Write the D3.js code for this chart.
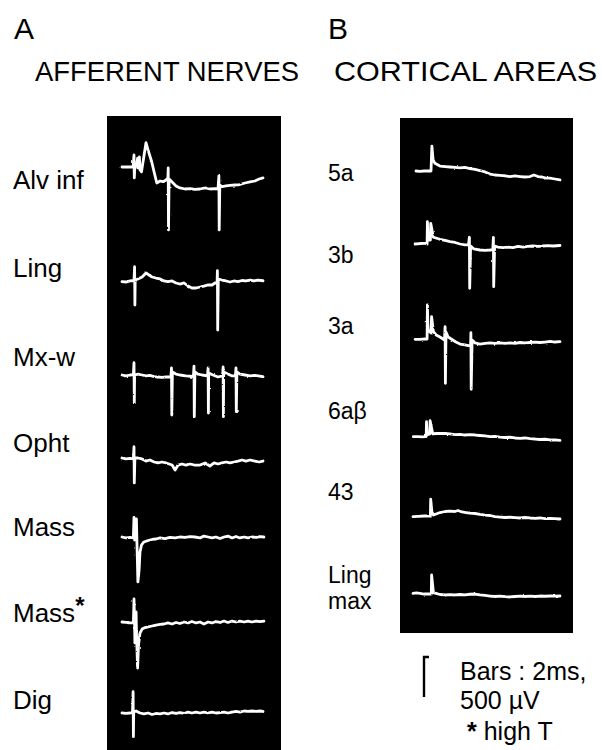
<!DOCTYPE html>
<html>
<head>
<meta charset="utf-8">
<script src="https://cdn.jsdelivr.net/npm/d3@7"></script>
<style>
  body { margin: 0; background: #fff; }
  text { font-family: "Liberation Sans", Arial, Helvetica, sans-serif; fill: #000; }
</style>
</head>
<body>
<div id="chart"></div>
<script>
// trace data: [time (ms), amplitude (µV, up = positive)]

const nerveLabels = ["Alv inf", "Ling", "Mx-w", "Opht", "Mass", "Mass", "Dig"];
const areaLabels = ["5a", "3b", "3a", "6aβ", "43", "Ling", "max"];

const alvInf = [[0,0],[3.7,0],[4.0,150],[4.1,-137],[4.3,12],[4.8,12],[5.2,110],[5.3,-12],[5.8,125],[6.0,-37],
  [6.5,-60],[8.0,304],[8.7,212],[9.9,66],[10.7,-62],[11.6,-200],[12.7,-175],[13.7,-184],[14.7,-162],[15.3,-137],
  [15.4,-12],[15.5,-787],[15.7,-150],[16.7,-187],[18,-237],[19.3,-262],[21,-275],[22.7,-269],[24.3,-281],[26,-275],
  [27.7,-262],[29.3,-275],[31,-269],[32,-275],[32.3,-112],[32.4,-787],[32.6,-225],[33.3,-246],[34.7,-237],[36,-231],
  [37.7,-225],[39.3,-219],[41,-200],[42.7,-187],[44.3,-175],[45.7,-150],[47,-137]];

const ling = [[0,0],[1.3,-4],[2.7,9],[4.0,15],[4.2,188],[4.3,-291],[4.4,21],[5.3,34],[6.7,59],[8,109],[9,84],
  [10,59],[11.3,46],[12.7,34],[14,9],[15.3,0],[16.7,9],[18,-16],[19.3,-29],[20.7,-16],[22,-54],[23.3,-79],
  [24.7,-79],[26,-66],[27.3,-54],[28.7,-41],[30,-41],[31,-16],[31.7,-16],[31.8,138],[31.9,-604],[32.1,34],
  [33.3,21],[34.7,9],[36,-4],[37.3,9],[38.7,2],[40,15],[41.3,9],[42.7,21],[44,9],[45.3,21],[47,12]];

const mxW = [[0,0],[1.3,-12],[2.7,0],[3.8,6],[4,154],[4.1,-350],[4.2,0],[5.3,12],[6.7,0],[8,-12],[9.3,-6],
  [10.7,-19],[12,-25],[13.3,-31],[14.7,-25],[16.3,-25],[16.5,88],[16.6,-500],[16.8,38],[18,12],[19.3,0],[21.3,-12],
  [23.8,-19],[24,112],[24.1,-521],[24.3,38],[25.3,12],[26.7,0],[28.5,-12],[28.7,88],[28.8,-475],[28.9,25],[30.3,0],
  [32,-25],[33.5,-12],[33.7,100],[33.8,-521],[33.9,38],[35.3,12],[36.7,-12],[37.8,-12],[38,88],[38.1,-459],[38.3,38],
  [39.3,12],[41,0],[42.7,-12],[44.3,-6],[47,-21]];

const opht = [[0,0],[1.3,-12],[2.7,-6],[3.8,-12],[4,141],[4.1,-312],[4.3,0],[5.3,0],[6.7,-12],[8,-38],[9.3,-25],
  [10.7,-50],[12,-62],[13.3,-50],[14.7,-62],[16.7,-88],[17.7,-150],[18.7,-88],[20,-75],[21.3,-88],[22.7,-75],
  [24.3,-88],[26,-88],[27.7,-62],[29.3,-100],[30.7,-62],[32,-75],[33.3,-62],[34.7,-50],[36,-62],[37.3,-50],
  [38.7,-38],[40,-25],[41.3,-38],[42.7,-25],[44.3,-38],[45.7,-50],[47,-38]];

const mass = [[0,0],[1.3,-12],[2.7,-6],[3.7,-12],[3.8,0],[4,246],[4.2,-38],[4.7,12],[4.8,225],[5,-100],[5.3,-562],
  [5.7,-412],[6,-188],[6.5,-100],[7.3,-62],[8.7,-44],[10,-31],[11.3,-25],[12.7,-12],[14.3,-19],[16,-6],[17.7,-12],
  [19.3,0],[21,-6],[22.7,6],[24.3,0],[26,-12],[27.3,12],[28.7,0],[30,-12],[31.3,0],[32.7,-19],[34,0],[35.3,12],
  [36.7,-12],[38,6],[39.3,-12],[40.7,0],[42,-12],[43.3,0],[44.7,-6],[46,6],[47.3,0]];

const massHigh = [[0,0],[1.3,-6],[2.7,-12],[3.8,-12],[4,288],[4.2,-25],[4.3,-262],[4.5,25],[4.7,125],[4.8,-100],
  [5.2,-575],[5.5,-288],[6,-138],[6.7,-88],[7.7,-69],[8.7,-62],[10,-50],[11.3,-38],[12.7,-31],[14,-25],[15.3,-12],
  [16.7,-25],[18,-6],[19.3,-19],[20.7,0],[22,-12],[23.3,6],[24.7,-12],[26,0],[27.3,-25],[28.7,0],[30,-12],[31.3,6],
  [32.7,-6],[34,12],[35.3,-6],[36.7,12],[38,0],[39.3,12],[40.7,0],[42,12],[43.3,0],[44.7,12],[46,6],[47.3,12]];

const dig = [[0,0],[1.3,-6],[2.7,0],[3.5,6],[3.7,266],[3.8,-296],[3.9,12],[4.7,25],[6,0],[7.3,-12],[8.7,0],
  [10,-19],[11.3,-6],[12.7,-12],[14,0],[15.3,-12],[16.7,6],[18,-6],[19.3,6],[20.7,-6],[22,12],[23.3,0],[24.7,12],
  [26,0],[27.3,12],[28.7,0],[30,12],[31.3,0],[32.7,6],[34,12],[35.3,0],[36.7,12],[38,19],[39.3,12],[40.7,25],
  [42,19],[43.3,25],[44.7,19],[46,25],[47,19]];

const area5a = [[1,0],[2.3,-6],[3.7,0],[4.8,0],[6,0],[6.3,312],[6.7,138],[7.3,96],[9,62],[10.7,56],[12.3,50],
  [14,44],[15.7,38],[17.3,44],[19,31],[20.7,21],[22.3,6],[24,-12],[25.7,-38],[27.3,-50],[29,-56],[30.7,-62],
  [32.3,-69],[34,-62],[35.7,-69],[37.3,-75],[39,-69],[40.3,-50],[41.7,-69],[43,-75],[44.3,-88],[45.7,-88],
  [47.3,-100],[49,-112]];

const area3b = [[0.7,0],[2.3,6],[4,9],[4.7,0],[4.8,279],[5,50],[5.8,50],[5.9,259],[6.8,84],[9,59],[10.7,44],
  [12.3,29],[14,19],[15.7,0],[17.3,-12],[18.5,-12],[18.8,84],[18.9,-554],[19.2,-25],[20.3,-62],[22.3,-75],[24,-81],
  [25.7,-75],[26.6,-69],[26.8,84],[26.9,-534],[27.2,-25],[28.3,-38],[30,-44],[31.7,-38],[33.3,-44],[35,-31],
  [36.7,-38],[38.3,-31],[40,-25],[41.7,-31],[43.3,-25],[45,-19],[46.7,-25],[49,-19]];

const area3a = [[0.7,0],[2.3,-2],[4,4],[4.7,4],[4.8,429],[5,116],[6,79],[6.2,283],[6.8,95],[7.7,54],[9,29],
  [10,4],[10.5,-9],[10.7,158],[10.8,-550],[11,91],[11.7,29],[13,-2],[14.3,-34],[15.7,-59],[17.3,-71],[19.2,-84],
  [19.3,83],[19.4,-625],[19.7,-9],[20.7,-46],[22.3,-59],[24,-52],[25.7,-46],[27.3,-52],[29,-46],[30.7,-52],
  [32.3,-46],[34,-52],[35.7,-40],[37.3,-46],[39,-40],[40.7,-34],[42.3,-40],[44,-34],[45.7,-27],[47.3,-34],[49,-30]];

const area6ab = [[0.1,0],[1.7,2],[3,-1],[4,0],[4.4,2],[4.5,188],[4.7,34],[5.6,34],[5.7,200],[6.6,34],[7.7,40],
  [9,42],[10.7,40],[12.3,34],[14,27],[15.7,30],[17.3,21],[19,25],[20.7,21],[22.3,15],[24,9],[25.7,2],[27.3,5],
  [29,-4],[30.7,-10],[32.3,-7],[34,-16],[35.7,-20],[37.3,-16],[39,-25],[40.7,-29],[42.3,-35],[44,-32],[45.7,-41],
  [47.3,-41],[49,-47]];

const area43 = [[0,0],[1.7,5],[3.8,9],[4.3,9],[5.8,9],[5.9,218],[6.3,59],[6.8,21],[7.7,34],[9,52],[10.7,65],
  [12.3,71],[14,65],[15,77],[16.3,59],[17.7,52],[19,46],[20.7,40],[22.3,30],[24,21],[25.7,15],[27.3,2],[29,-4],
  [30.7,-10],[32.3,-7],[34,-12],[35.7,-16],[37.3,-10],[39,-16],[40.7,-20],[42.3,-16],[44,-25],[45.7,-22],
  [47.3,-25],[49,-29]];

const lingMax = [[0,0],[1.1,4],[2.3,-2],[3.7,-9],[4.7,-9],[6.1,-9],[6.2,229],[6.8,7],[7.7,-2],[9,-15],[10.7,-21],
  [12.3,-17],[14,-21],[15.7,-15],[17.3,-21],[19,-12],[20.7,-9],[22.3,-21],[24,-27],[25.7,-34],[27.3,-40],[29,-34],
  [30.7,-42],[32.3,-46],[34,-40],[35.7,-34],[37.3,-40],[39,-34],[40.7,-40],[42.3,-34],[44,-37],[45.7,-34],
  [47.3,-36],[49,-34]];

const nerveTraces = [alvInf, ling, mxW, opht, mass, massHigh, dig];
const areaTraces = [area5a, area3b, area3a, area6ab, area43, lingMax];

// layout
const W = 602, H = 750;
const nerveBase = [167, 281.7, 375, 458, 537, 622, 713];
const nerveLabelY = [189, 277, 366, 452, 536, 622, 709];
const areaBase = [171, 244, 339.3, 436.7, 516.7, 593.3];
const areaLabelY = [181, 263, 334, 419, 500, 583, 609];

const svg = d3.select("#chart")
  .append("svg")
    .attr("width", W)
    .attr("height", H);

// slight roughness so the traces look like scope photographs
const filt = svg.append("defs").append("filter")
  .attr("id", "rough")
  .attr("filterUnits", "userSpaceOnUse")
  .attr("x", 0).attr("y", 0).attr("width", W).attr("height", H);
filt.append("feTurbulence")
  .attr("type", "fractalNoise").attr("baseFrequency", 0.3).attr("numOctaves", 1).attr("seed", 4);
filt.append("feDisplacementMap")
  .attr("in", "SourceGraphic").attr("scale", 2.2)
  .attr("xChannelSelector", "R").attr("yChannelSelector", "G");

// time and amplitude scales (2 ms and 500 µV bars)
const xA = d3.scaleLinear().domain([0, 47]).range([122, 263]);
const xB = d3.scaleLinear().domain([0, 49]).range([413, 560]);
const amp = d3.scaleLinear().domain([0, 500]).range([0, -40]);

// black oscilloscope panels
svg.append("rect").attr("x", 107).attr("y", 116).attr("width", 174).attr("height", H - 116).attr("fill", "#000");
svg.append("rect").attr("x", 400).attr("y", 118).attr("width", 173).attr("height", 515).attr("fill", "#000");

function drawTraces(traces, bases, x) {
  const line = d3.line()
    .x(d => x(d[0]))
    .y(d => amp(d[1]));
  svg.append("g")
    .attr("filter", "url(#rough)")
    .selectAll("path")
    .data(traces)
    .enter().append("path")
      .attr("transform", (d, i) => `translate(0,${bases[i]})`)
      .attr("d", line)
      .attr("fill", "none")
      .attr("stroke", "#fff")
      .attr("stroke-width", 2.8)
      .attr("stroke-linejoin", "round")
      .attr("stroke-linecap", "round");
}
drawTraces(nerveTraces, nerveBase, xA);
drawTraces(areaTraces, areaBase, xB);

// panel letters and headings
svg.append("text").attr("x", 14).attr("y", 39).attr("font-size", 30).text("A");
svg.append("text").attr("x", 328).attr("y", 39).attr("font-size", 30).text("B");
svg.append("text").attr("x", 35).attr("y", 81).attr("font-size", 28)
  .attr("textLength", 264).attr("lengthAdjust", "spacingAndGlyphs").text("AFFERENT NERVES");
svg.append("text").attr("x", 334).attr("y", 81).attr("font-size", 28)
  .attr("textLength", 263).attr("lengthAdjust", "spacingAndGlyphs").text("CORTICAL AREAS");

// trace labels
const nl = svg.append("g").selectAll("text")
  .data(nerveLabels)
  .enter().append("text")
    .attr("x", 13)
    .attr("y", (d, i) => nerveLabelY[i])
    .attr("font-size", 26)
    .text(d => d);
nl.filter((d, i) => i === 5).append("tspan")
  .attr("dy", -8).attr("font-size", 24).attr("font-weight", "bold").text("*");

svg.append("g").selectAll("text")
  .data(areaLabels)
  .enter().append("text")
    .attr("x", 328)
    .attr("y", (d, i) => areaLabelY[i])
    .attr("font-size", 23)
    .text(d => d);

// calibration bar
svg.append("path")
  .attr("d", "M424,697 V657 H429")
  .attr("fill", "none").attr("stroke", "#000").attr("stroke-width", 2.4);
svg.append("text").attr("x", 460).attr("y", 680).attr("font-size", 25).text("Bars : 2ms,");
svg.append("text").attr("x", 460).attr("y", 709).attr("font-size", 25).text("500 µV");
const ht = svg.append("text").attr("x", 467).attr("y", 740).attr("font-size", 25);
ht.append("tspan").attr("font-weight", "bold").text("*");
ht.append("tspan").text(" high T");
</script>
</body>
</html>
